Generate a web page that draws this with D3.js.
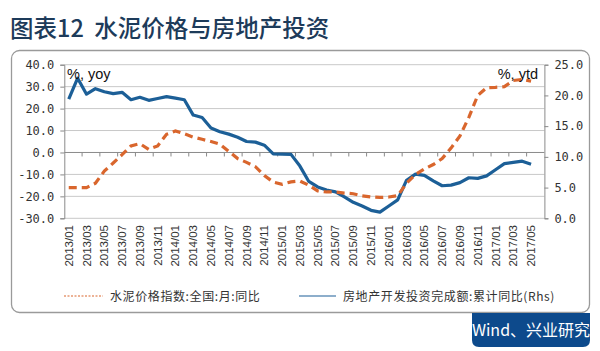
<!DOCTYPE html>
<html><head><meta charset="utf-8">
<script src="https://cdn.jsdelivr.net/npm/d3@7"></script>
<style>
html,body{margin:0;padding:0;background:#fff;}
svg{display:block;}
</style></head>
<body>
<script>
// ---- data ----
const months = [];
for (let y = 2013; y <= 2017; y++) for (let m = 1; m <= 12; m++) {
  if (y === 2017 && m > 5) break;
  months.push(y + "/" + String(m).padStart(2, "0"));
}
// 水泥价格指数:全国:月:同比 (left axis, %)
const cementYoY = [
  -16.0,-16.0,-16.0,-14.0,-8.5,-4.8,-1.0,3.0,4.0,1.4,3.0,8.3,
  9.8,8.5,7.0,6.0,5.0,3.8,0.5,-2.8,-4.5,-6.5,-10.5,-13.5,
  -14.5,-13.4,-13.0,-14.9,-17.5,-18.0,-18.0,-18.5,-18.8,-19.8,-20.3,-20.5,
  -20.3,-19.7,-14.0,-10.0,-7.5,-5.5,-2.8,2.0,7.5,16.0,26.0,29.5,
  29.7,30.0,32.8,33.3,32.5
];
// 房地产开发投资完成额:累计同比 (right axis, %)
const realEstateYtd = [
  19.4,22.8,20.2,21.1,20.6,20.3,20.5,19.3,19.7,19.2,19.5,19.8,
  19.55,19.3,16.8,16.4,14.7,14.1,13.7,13.2,12.5,12.4,11.9,10.5,
  10.45,10.4,8.5,6.0,5.1,4.6,4.3,3.5,2.6,2.0,1.3,1.0,
  2.0,3.0,6.2,7.2,7.0,6.1,5.3,5.4,5.8,6.6,6.5,6.9,
  7.9,8.9,9.1,9.3,8.8
];
const leftTicks = [-30,-20,-10,0,10,20,30,40];
const rightTicks = [0,5,10,15,20,25];
const titleText = "图表12  水泥价格与房地产投资";
const legendLabels = ["水泥价格指数:全国:月:同比", "房地产开发投资完成额:累计同比(Rhs)"];
const sourceText = "Wind、兴业研究";

// ---- layout ----
const W = 600, H = 351;
const plot = {l: 64.3, r: 544.4, t: 64.7, b: 218.3};
const orange = "#d9662d", blue = "#1c5f97";

const svg = d3.select("body").append("svg").attr("width", W).attr("height", H);

// title
svg.append("text").attr("x", 10).attr("y", 37)
  .attr("font-family", "'Noto Sans CJK SC'").attr("font-size", 23.5)
  .attr("fill", "#1d3b5a").attr("font-weight", 500)
  .style("white-space", "pre").text(titleText);

// frame
svg.append("rect").attr("x", 11.5).attr("y", 50.5).attr("width", 578).attr("height", 262)
  .attr("rx", 8).attr("fill", "#fff").attr("stroke", "#9a9a9a").attr("stroke-width", 1.3);

// scales
const xBand = d3.scaleBand().domain(d3.range(months.length + 1)).range([plot.l, plot.r]);
const bw = xBand.bandwidth();
const xc = i => xBand(i) + bw / 2;
const yL = d3.scaleLinear().domain([-30, 40]).range([plot.b, plot.t]);
const yR = d3.scaleLinear().domain([0, 25]).range([plot.b, plot.t]);

// gridlines
svg.append("g").selectAll("line").data(leftTicks).join("line")
  .attr("x1", plot.l).attr("x2", plot.r)
  .attr("y1", d => yL(d)).attr("y2", d => yL(d))
  .attr("stroke", d => d === 0 ? "#8a8a8a" : "#c9c9c9").attr("stroke-width", 1);

// category ticks on zero line
const zeroY = yL(0);
svg.append("g").selectAll("line").data(d3.range(2, months.length + 1, 2)).join("line")
  .attr("x1", d => xBand(d)).attr("x2", d => xBand(d))
  .attr("y1", zeroY).attr("y2", zeroY + 4)
  .attr("stroke", "#8a8a8a").attr("stroke-width", 1);

// left axis
const axL = svg.append("g").attr("transform", `translate(${plot.l},0)`)
  .call(d3.axisLeft(yL).tickValues(leftTicks).tickFormat(d => d3.format(".1f")(d).replace("−", "-")).tickSize(4).tickPadding(6));
axL.select(".domain").attr("stroke", "#8a8a8a");
axL.selectAll(".tick line").attr("stroke", "#8a8a8a");
axL.selectAll("text").attr("font-family", "'DejaVu Sans Mono'").attr("font-size", 12).attr("fill", "#333");

// right axis
const axR = svg.append("g").attr("transform", `translate(${plot.r},0)`)
  .call(d3.axisRight(yR).tickValues(rightTicks).tickFormat(d3.format(".1f")).tickSize(4).tickPadding(6));
axR.select(".domain").attr("stroke", "#8a8a8a");
axR.selectAll(".tick line").attr("stroke", "#8a8a8a");
axR.selectAll("text").attr("font-family", "'DejaVu Sans Mono'").attr("font-size", 12).attr("fill", "#333");

// x labels
svg.append("g").selectAll("text").data(months.filter((m, i) => i % 2 === 0)).join("text")
  .attr("transform", d => `translate(${xc(months.indexOf(d)) + 4},225) rotate(-90)`)
  .attr("text-anchor", "end")
  .attr("font-family", "'Liberation Sans'").attr("font-size", 11.5).attr("fill", "#333")
  .text(d => d);

// lines
const lineL = d3.line().x((d, i) => xc(i)).y(d => yL(d));
const lineR = d3.line().x((d, i) => xc(i)).y(d => yR(d));
svg.append("path").datum(realEstateYtd).attr("d", lineR)
  .attr("fill", "none").attr("stroke", blue).attr("stroke-width", 3.2).attr("stroke-linejoin", "round");
svg.append("path").datum(cementYoY).attr("d", lineL)
  .attr("fill", "none").attr("stroke", orange).attr("stroke-width", 3.2)
  .attr("stroke-dasharray", "8,5");

// axis unit labels
svg.append("text").attr("x", 67).attr("y", 79).attr("font-family", "'Liberation Sans'")
  .attr("font-size", 14.5).attr("fill", "#111").text("%, yoy");
svg.append("text").attr("x", 538).attr("y", 79).attr("text-anchor", "end").attr("font-family", "'Liberation Sans'")
  .attr("font-size", 14.5).attr("fill", "#111").text("%, ytd");

// legend
const lg = svg.append("g");
lg.append("line").attr("x1", 64).attr("x2", 103).attr("y1", 296).attr("y2", 296)
  .attr("stroke", orange).attr("stroke-width", 1.2).attr("stroke-dasharray", "2,1.5");
lg.append("text").attr("x", 110).attr("y", 300.5).attr("font-family", "'Noto Sans CJK SC'")
  .attr("font-size", 12).attr("letter-spacing", 0.6).attr("fill", "#333").text(legendLabels[0]);
lg.append("line").attr("x1", 299).attr("x2", 336).attr("y1", 296).attr("y2", 296)
  .attr("stroke", blue).attr("stroke-width", 1.2);
lg.append("text").attr("x", 343).attr("y", 300.5).attr("font-family", "'Noto Sans CJK SC'")
  .attr("font-size", 12).attr("letter-spacing", 0.6).attr("fill", "#333").text(legendLabels[1]);

// source box
svg.append("path")
  .attr("d", "M472,313 H590 V340 Q590,347 583,347 H479 Q472,347 472,340 Z")
  .attr("fill", "#0d4a8c");
svg.append("text").attr("x", 531).attr("y", 336).attr("text-anchor", "middle")
  .attr("font-family", "'Noto Sans CJK SC'").attr("font-size", 16).attr("fill", "#fff")
  .text(sourceText);
</script>
</body></html>
